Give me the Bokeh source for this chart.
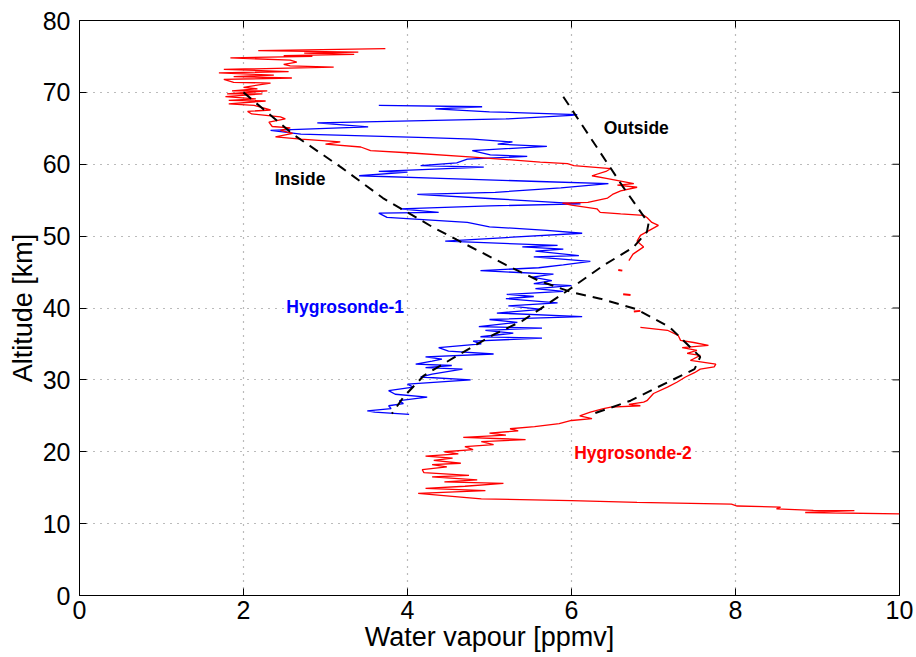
import math
from bokeh.plotting import figure
from bokeh.models import Range1d, FixedTicker, Label
from bokeh.embed import file_html
from bokeh.resources import INLINE

# ---- data (water vapour [ppmv], altitude [km]) ----
x_ticks = [0, 2, 4, 6, 8, 10]
y_ticks = [0, 10, 20, 30, 40, 50, 60, 70, 80]
x_lim = (0, 10)
y_lim = (0, 80)

# Hygrosonde-1 (blue), trace order bottom -> top
blue_pts = [
    (4.02, 25.2), (3.6, 25.5), (3.51, 25.7), (3.8, 26.0), (3.77, 26.4), (3.95, 26.7),
    (3.9, 27.1), (4.24, 27.6), (3.85, 28.0), (3.77, 28.5), (4.07, 29.0), (4.0, 29.4),
    (4.77, 30.0), (4.16, 30.4), (4.3, 30.8), (4.67, 31.5), (4.22, 31.7), (4.54, 32.0),
    (4.10, 32.2), (4.3, 32.6), (4.42, 32.9), (4.22, 33.2), (5.05, 33.6), (4.5, 34.0),
    (4.38, 34.5), (4.9, 35.0), (4.8, 35.4), (5.64, 35.8), (4.89, 36.0), (5.29, 36.5),
    (4.95, 36.9), (5.64, 37.2), (4.87, 37.4), (5.34, 38.0), (5.0, 38.4), (6.13, 38.8),
    (5.09, 39.3), (5.64, 39.8), (5.23, 40.3), (5.83, 40.7), (5.20, 41.3), (5.54, 41.6),
    (5.21, 41.9), (5.9, 42.3), (5.56, 42.7), (6.0, 43.1), (5.54, 43.4), (5.76, 43.8),
    (5.52, 44.3), (5.78, 44.7), (4.89, 45.2), (5.6, 45.6), (5.9, 46.0), (6.23, 46.5),
    (5.54, 47.1), (6.09, 47.3), (5.56, 47.9), (5.9, 48.2), (5.40, 48.5), (5.83, 48.7),
    (4.46, 49.3), (5.2, 49.8), (6.13, 50.4), (5.70, 50.8), (5.0, 51.3), (4.73, 51.9),
    (3.75, 52.6), (3.65, 53.2), (4.38, 53.3), (3.91, 53.8), (5.0, 54.2), (6.11, 54.5),
    (5.05, 55.2), (4.12, 55.8), (5.07, 56.1), (5.87, 56.7), (6.45, 57.3), (5.6, 57.6),
    (4.5, 58.0), (3.41, 58.4), (4.0, 58.9), (3.65, 59.0), (4.93, 59.6), (4.16, 59.8),
    (4.6, 60.2), (4.73, 60.7), (5.46, 61.1), (5.01, 61.3), (4.79, 61.9), (5.70, 62.5),
    (5.1, 62.8), (5.28, 63.1), (4.8, 63.5), (4.24, 63.7), (2.7, 64.2), (2.33, 64.7),
    (3.52, 65.2), (2.9, 65.75), (5.2, 66.3), (6.0, 66.8), (6.07, 66.9), (5.0, 67.3),
    (4.34, 67.7), (4.91, 68.0), (3.65, 68.2),
]

# Hygrosonde-2 (red), lower continuous part
red_low_pts = [
    (10.0, 11.35), (8.85, 11.55), (9.45, 11.8), (8.95, 11.85), (8.5, 12.05), (8.55, 12.3),
    (8.02, 12.45), (7.95, 12.7), (6.8, 12.95), (6.0, 13.2), (4.9, 13.45), (4.65, 13.7),
    (4.13, 14.2), (4.95, 14.6), (4.22, 14.9), (4.7, 15.2), (5.17, 15.6), (4.45, 15.8),
    (4.85, 16.1), (4.3, 16.5), (4.75, 16.7), (4.2, 17.1), (4.18, 17.5), (4.48, 17.9),
    (4.3, 18.2), (4.65, 18.4), (4.32, 18.8), (4.55, 19.1), (4.22, 19.4), (4.62, 19.7),
    (4.45, 20.0), (4.8, 20.3), (4.7, 20.7), (5.05, 21.0), (4.9, 21.4), (5.44, 21.7),
    (4.68, 22.0), (5.2, 22.3), (5.0, 22.6), (5.35, 22.9), (5.25, 23.2), (5.55, 23.5),
    (5.85, 23.9), (6.0, 24.35), (6.25, 24.6), (6.1, 25.0), (6.23, 25.5), (6.39, 26.0),
    (6.48, 26.2), (6.84, 26.4), (6.7, 26.6), (6.88, 26.9), (6.92, 27.1), (7.0, 28.1),
    (7.17, 29.0), (7.29, 29.7), (7.39, 30.4), (7.5, 31.0), (7.57, 31.5), (7.74, 31.8),
    (7.76, 32.2), (7.45, 32.7), (7.57, 33.4), (7.41, 33.7), (7.53, 34.1), (7.35, 34.5),
    (7.67, 34.8), (7.49, 35.2), (7.33, 35.5), (7.3, 36.2), (7.17, 36.9), (6.84, 37.3),
]

# Hygrosonde-2 short isolated fragments
red_frag_1 = [(6.76, 39.5), (6.84, 39.6)]
red_frag_2 = [(6.63, 41.9), (6.72, 41.8)]
red_frag_3 = [(6.57, 45.3), (6.62, 45.2)]

# Hygrosonde-2 upper continuous part
red_high_pts = [
    (6.70, 46.6), (6.75, 47.5), (6.88, 48.5), (6.8, 49.3), (6.84, 50.1), (6.95, 50.8),
    (7.06, 51.5), (6.98, 51.9), (6.92, 52.6), (6.88, 52.9), (6.6, 53.1), (6.35, 53.3),
    (6.31, 53.8), (6.0, 54.3), (5.89, 54.6), (6.2, 54.7), (6.44, 55.3), (6.5, 55.8),
    (6.6, 56.3), (6.8, 56.8), (6.56, 57.1), (6.76, 57.3), (6.44, 58.0), (6.25, 58.4),
    (6.42, 59.0), (6.48, 59.4), (6.03, 59.8), (5.95, 60.1), (5.62, 60.3), (4.8, 61.0),
    (4.0, 61.6), (3.55, 61.9), (3.43, 62.4), (3.0, 62.8), (3.18, 63.1), (2.7, 63.5),
    (2.39, 63.8), (2.6, 64.3), (2.45, 64.7), (2.57, 65.05), (2.35, 65.25), (2.31, 65.85),
    (2.51, 66.3), (2.45, 66.6), (2.1, 67.0), (2.05, 67.35), (2.33, 67.55), (2.13, 68.2),
    (1.82, 68.4), (2.27, 68.8), (1.82, 68.9), (2.15, 69.1), (1.78, 69.4), (2.23, 69.8),
    (1.80, 69.8), (2.29, 70.2), (1.86, 70.2), (2.17, 70.5), (2.0, 70.7), (2.33, 71.3),
    (1.88, 71.4), (1.76, 71.8), (2.59, 72.0), (1.88, 72.2), (2.37, 72.4), (1.70, 72.7),
    (2.55, 72.9), (1.76, 73.2), (3.10, 73.5), (2.57, 73.7), (2.49, 73.9), (2.65, 74.2),
    (2.57, 74.5), (1.84, 74.8), (2.84, 75.0), (2.49, 75.1), (3.35, 75.3), (2.74, 75.45),
    (3.40, 75.6), (2.18, 75.8), (3.73, 76.1),
]

# dashed envelopes
inside_x = [2.0, 2.3, 2.6, 3.2, 3.7, 4.3, 4.6, 5.2, 5.6, 6.0, 6.35, 6.8, 7.2, 7.57, 7.5, 7.0, 6.72, 6.27]
inside_alt = [70.0, 67.1, 64.2, 59.5, 55.3, 51.3, 49.5, 46.0, 43.8, 42.2, 41.3, 39.8, 37.3, 33.2, 31.5, 28.7, 27.1, 25.3]
outside_x = [5.9, 6.62, 6.94, 6.92, 6.75, 6.4, 5.95, 5.4, 5.05, 4.61, 4.2, 3.95, 3.81]
outside_alt = [69.4, 57.0, 51.8, 50.6, 48.4, 46.0, 42.4, 38.2, 36.3, 33.4, 30.6, 27.6, 25.3]


def xs(pts):
    return [a for a, b in pts]


def ys(pts):
    return [b for a, b in pts]


FONT = "Liberation Sans"

p = figure(width=916, height=657, x_range=Range1d(*x_lim), y_range=Range1d(*y_lim),
           output_backend="svg", toolbar_location=None,
           min_border_left=79, min_border_right=17, min_border_top=20, min_border_bottom=62,
           x_axis_label="Water vapour [ppmv]", y_axis_label="Altitude [km]")
p.background_fill_color = "white"
p.border_fill_color = "white"
p.outline_line_color = "black"
p.outline_line_width = 1

for ax, ticks in ((p.xaxis[0], x_ticks), (p.yaxis[0], y_ticks)):
    ax.ticker = FixedTicker(ticks=ticks)
    ax.major_tick_in = 7
    ax.major_tick_out = 0
    ax.minor_tick_line_color = None
    ax.axis_line_color = "black"
    ax.major_tick_line_color = "black"
    ax.major_label_text_font = FONT
    ax.major_label_text_font_size = "25px"
    ax.major_label_text_color = "black"
    ax.axis_label_text_font = FONT
    ax.axis_label_text_font_size = "27px"
    ax.axis_label_text_font_style = "normal"
    ax.axis_label_text_color = "black"

p.xaxis[0].major_label_standoff = 5
p.xaxis[0].axis_label_standoff = 0
p.yaxis[0].major_label_standoff = 9
p.yaxis[0].axis_label_standoff = 2

for g in (p.xgrid[0], p.ygrid[0]):
    g.grid_line_color = "#777777"
    g.grid_line_dash = "1 6"
    g.grid_line_width = 1.2

# inward tick marks on the top and right edges of the box (clipped to the frame)
p.scatter(x_ticks, [y_lim[1]] * len(x_ticks), marker="dash", size=14, angle=math.pi / 2,
          line_color="black", line_width=1)
p.scatter([x_lim[1]] * len(y_ticks), y_ticks, marker="dash", size=14,
          line_color="black", line_width=1)

# profiles
p.line(xs(blue_pts), ys(blue_pts), line_color="#0000ff", line_width=1.3)
p.line(xs(red_low_pts), ys(red_low_pts), line_color="#ff0000", line_width=1.3)
for frag in (red_frag_1, red_frag_2, red_frag_3):
    p.line(xs(frag), ys(frag), line_color="#ff0000", line_width=2)
p.line(xs(red_high_pts), ys(red_high_pts), line_color="#ff0000", line_width=1.3)

p.line(inside_x, inside_alt, line_color="black", line_width=2, line_dash="10 7")
p.line(outside_x, outside_alt, line_color="black", line_width=2, line_dash="10 7")

for txt, x, y, col in (("Outside", 6.79, 65.1, "black"), ("Inside", 2.69, 57.9, "black"),
                       ("Hygrosonde-1", 3.24, 40.1, "#0000ff"),
                       ("Hygrosonde-2", 6.75, 19.8, "#ff0000")):
    p.add_layout(Label(x=x, y=y, text=txt, text_color=col, text_font=FONT,
                       text_font_style="bold", text_font_size="17.5px",
                       text_align="center", text_baseline="middle"))

open("out.html", "w").write(file_html(p, INLINE))
